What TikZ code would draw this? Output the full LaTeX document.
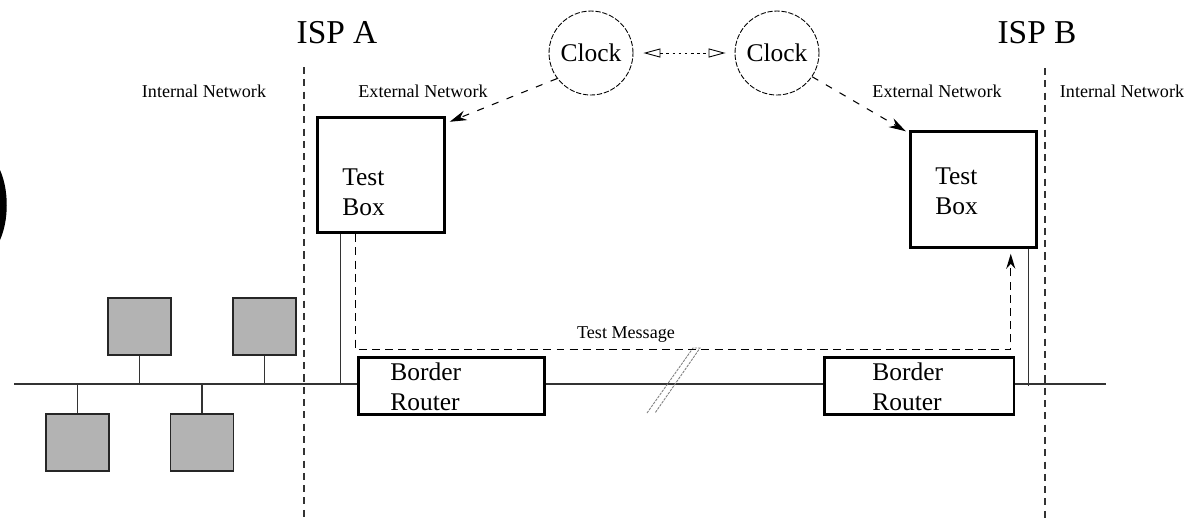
\documentclass[tikz,border=0pt]{standalone}
\usepackage{fontspec}
\setmainfont{Liberation Serif}
\usepackage{tikz}
\usetikzlibrary{arrows.meta,positioning,calc}
\usepackage{xcolor}
\definecolor{hostgray}{HTML}{B3B3B3}
\definecolor{linec}{HTML}{333333}

\tikzset{
  px/.style={x=0.02cm, y=-0.02cm},
  bigfont/.style={font=\fontsize{19}{23}\selectfont},
  boxfont/.style={font=\fontsize{14.5}{17.4}\selectfont},
  smallfont/.style={font=\fontsize{10.3}{12}\selectfont},
  testbox/.style={draw, line width=1.7pt, minimum width=2.53cm, minimum height=2.31cm, inner sep=0pt},
  routerbox/.style={draw, fill=white, line width=1.7pt, minimum height=1.14cm, inner sep=0pt},
  hostbox/.style={draw=black!85, fill=hostgray, line width=0.8pt, minimum width=1.26cm, minimum height=1.14cm, inner sep=0pt},
  clocknode/.style={circle, draw, dash pattern=on 3pt off 1pt, line width=0.5pt, minimum size=1.68cm, inner sep=0pt, boxfont},
  boxtext/.style={boxfont, align=left, inner sep=0pt, anchor=north west},
  wire/.style={linec, line width=0.6pt},
  border/.style={linec, line width=0.6pt, dash pattern=on 4pt off 3pt},
  msgpath/.style={black, line width=0.7pt, dash pattern=on 4.5pt off 3pt, -{Stealth[length=0.3cm,width=0.18cm]}},
  clockarrow/.style={black, line width=0.6pt, dash pattern=on 4pt off 5pt, -{Stealth[length=0.34cm,width=0.2cm]}},
  syncarrow/.style={line width=0.5pt, dash pattern=on 1.5pt off 2pt, {Triangle[open,length=0.34cm,width=0.18cm]}-{Triangle[open,length=0.34cm,width=0.18cm]}},
  breakmark/.style={gray, line width=0.5pt, dash pattern=on 1.5pt off 0.6pt},
}

\begin{document}
\begin{tikzpicture}[px]
  \useasboundingbox (0,0) rectangle (1195,522);

  % ISP borders and the wire
  \coordinate (ispAtop) at (304,67);
  \coordinate (ispAbot) at (304,522);
  \coordinate (ispBtop) at (1045,68);
  \coordinate (ispBbot) at (1045,522);
  \coordinate (busL) at (14,384);
  \coordinate (busR) at (1106,384);
  \draw[border] (ispAtop) -- (ispAbot);
  \draw[border] (ispBtop) -- (ispBbot);
  \draw[wire] (busL) -- (busR);
  \draw[breakmark] (647,413) -- (693,348) -- (700,348) -- (655,413);

  % labels
  \node[bigfont, anchor=base] (ispA) at (337,43) {ISP A};
  \node[bigfont, anchor=base] (ispB) at (1037,43) {ISP B};
  \node[smallfont, anchor=base] (intA) at (204,97) {Internal Network};
  \node[smallfont, anchor=base] (extA) at (423,97) {External Network};
  \node[smallfont, anchor=base] (extB) at (937,97) {External Network};
  \node[smallfont, anchor=base] (intB) at (1122,97) {Internal Network};
  \node[smallfont, anchor=base] (msg) at (626,338) {Test Message};

  % clocks
  \node[clocknode] (clockA) at (591,53) {Clock};
  \node[clocknode] (clockB) at (777,53) {Clock};

  % test boxes
  \node[testbox] (tbA) at (381,175) {};
  \node[boxtext] (tbAtext) at (342,168) {Test\\Box};
  \node[testbox] (tbB) at (973.5,189.5) {};
  \node[boxtext] (tbBtext) at (935,167) {Test\\Box};

  % border routers
  \node[routerbox, minimum width=3.74cm] (brA) at (451.5,385.5) {};
  \node[boxtext] (brAtext) at (390,362) {Border\\Router};
  \node[routerbox, minimum width=3.8cm] (brB) at (919,385.5) {};
  \node[boxtext] (brBtext) at (872,362) {Border\\Router};

  % hosts on the internal network
  \node[hostbox] (h1) at (139.5,326.5) {};
  \node[hostbox] (h2) at (264.5,326.5) {};
  \node[hostbox] (h3) at (77.5,442.5) {};
  \node[hostbox] (h4) at (202,442.5) {};
  \draw[wire] (h1.south) -- (h1.south |- busL);
  \draw[wire] (h2.south) -- (h2.south |- busL);
  \draw[wire] (h3.north) -- (h3.north |- busL);
  \draw[wire] (h4.north) -- (h4.north |- busL);

  % test boxes to the wire
  \draw[wire] ([xshift=0.48cm]tbA.south west) -- +(0,151);
  \draw[wire] ([xshift=-0.2cm]tbB.south east) -- +(0,137);
  \draw[msgpath] ([xshift=0.78cm]tbA.south west) -- ++(0,115)
    -| ([xshift=2.04cm, yshift=-0.1cm]tbB.south west);

  % clock sync
  \draw[syncarrow] ([xshift=0.2cm]clockA.east) -- ([xshift=-0.18cm]clockB.west);
  \draw[clockarrow] (clockA.217) -- ([xshift=0.08cm, yshift=-0.12cm]tbA.north east);
  \draw[clockarrow] (clockB.326) -- ([xshift=-0.06cm, yshift=-0.02cm]tbB.north west);

  \fill (0,170) .. controls (9,190) and (9,220) .. (0,240) -- cycle;
\end{tikzpicture}
\end{document}
